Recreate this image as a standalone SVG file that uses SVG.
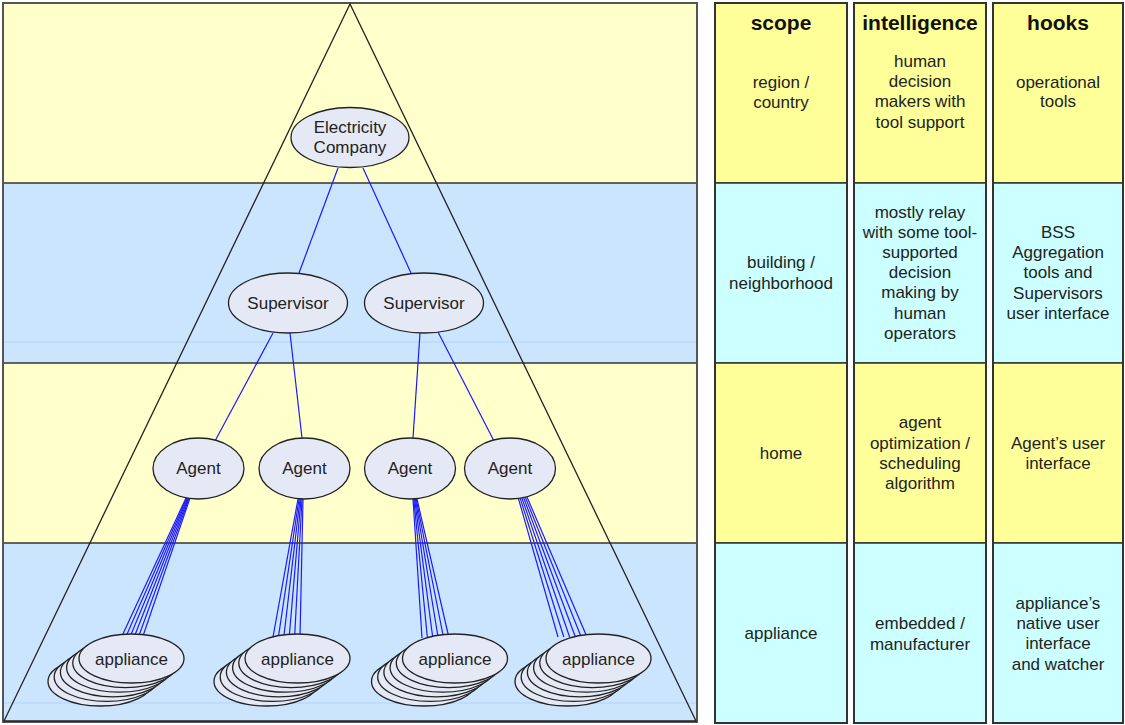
<svg xmlns="http://www.w3.org/2000/svg" width="1125" height="725" viewBox="0 0 1125 725">
<style>
.bandY{fill:#FFFFCC}
.bandB{fill:#CCE5FF}
.sep{stroke:#333;stroke-width:1.5}
.faint{stroke:#BBD9F8;stroke-width:1.5}
.tri{fill:none;stroke:#222;stroke-width:1.3}
.node{fill:#E4E9F5;stroke:#222;stroke-width:1.3}
.lbl{font-family:"Liberation Sans",Arial,sans-serif;font-size:17px;fill:#222;text-anchor:middle}
.hdr{font-family:"Liberation Sans",Arial,sans-serif;font-size:21px;font-weight:bold;fill:#111;text-anchor:middle}
.conn line{stroke:#1A1AFF;stroke-width:1.2}
.cY{fill:#FFFF99;stroke:#333;stroke-width:1.5}
.cC{fill:#CCFFFF;stroke:#333;stroke-width:1.5}
.col{fill:none;stroke:#333;stroke-width:2}
</style>
<rect x="0" y="0" width="1125" height="725" fill="#ffffff"/>
<g id="layers">
<rect class="bandY" x="3" y="3" width="694" height="180"/>
<rect class="bandB" x="3" y="183" width="694" height="180"/>
<rect class="bandY" x="3" y="363" width="694" height="180"/>
<rect class="bandB" x="3" y="543" width="694" height="179"/>
<line class="faint" x1="4" y1="342" x2="696" y2="342"/>
<line class="faint" x1="4" y1="703" x2="696" y2="703"/>
<line class="sep" x1="3" y1="183" x2="697" y2="183"/>
<line class="sep" x1="3" y1="363" x2="697" y2="363"/>
<line class="sep" x1="3" y1="543" x2="697" y2="543"/>
<rect x="3" y="3" width="694" height="719" fill="none" stroke="#555" stroke-width="2"/>
<polygon class="tri" points="350,4 4,721 696,721"/>
</g>
<g id="connectors" class="conn">
<line x1="338" y1="168" x2="299" y2="273"/>
<line x1="363" y1="168" x2="411" y2="273"/>
<line x1="273" y1="333" x2="215" y2="441"/>
<line x1="290" y1="333" x2="302" y2="438"/>
<line x1="420" y1="333" x2="413" y2="438"/>
<line x1="438" y1="332" x2="494" y2="441"/>
<line x1="186" y1="498" x2="122" y2="636"/>
<line x1="186.8" y1="498" x2="126.2" y2="636"/>
<line x1="187.6" y1="498" x2="130.4" y2="636"/>
<line x1="188.4" y1="498" x2="134.6" y2="636"/>
<line x1="189.2" y1="498" x2="138.8" y2="636"/>
<line x1="190" y1="498" x2="143" y2="636"/>
<line x1="298" y1="499" x2="273" y2="637"/>
<line x1="299" y1="499" x2="278.4" y2="637"/>
<line x1="300" y1="499" x2="283.8" y2="637"/>
<line x1="301" y1="499" x2="289.2" y2="637"/>
<line x1="302" y1="499" x2="294.6" y2="637"/>
<line x1="303" y1="499" x2="300" y2="637"/>
<line x1="413" y1="499" x2="422" y2="638"/>
<line x1="413.8" y1="499" x2="427.4" y2="638"/>
<line x1="414.6" y1="499" x2="432.8" y2="638"/>
<line x1="415.4" y1="499" x2="438.2" y2="638"/>
<line x1="416.2" y1="499" x2="443.6" y2="638"/>
<line x1="417" y1="499" x2="449" y2="638"/>
<line x1="518" y1="497" x2="558" y2="637"/>
<line x1="519.8" y1="497" x2="563.8" y2="637"/>
<line x1="521.6" y1="497" x2="569.6" y2="637"/>
<line x1="523.4" y1="497" x2="575.4" y2="637"/>
<line x1="525.2" y1="497" x2="581.2" y2="637"/>
<line x1="527" y1="497" x2="587" y2="637"/>
</g>
<g id="electricity-company">
<ellipse class="node" cx="350" cy="137.5" rx="59" ry="30"/>
<text class="lbl" x="350" y="133">Electricity</text>
<text class="lbl" x="350" y="153">Company</text>
</g>
<g id="supervisor-1">
<ellipse class="node" cx="288" cy="303" rx="59.5" ry="30"/>
<text class="lbl" x="288" y="309">Supervisor</text>
</g>
<g id="supervisor-2">
<ellipse class="node" cx="424" cy="303" rx="59.5" ry="30"/>
<text class="lbl" x="424" y="309">Supervisor</text>
</g>
<g id="agent-1">
<ellipse class="node" cx="198.5" cy="468.5" rx="45.5" ry="30.5"/>
<text class="lbl" x="198.5" y="474">Agent</text>
</g>
<g id="agent-2">
<ellipse class="node" cx="304.5" cy="468.5" rx="45.5" ry="30.5"/>
<text class="lbl" x="304.5" y="474">Agent</text>
</g>
<g id="agent-3">
<ellipse class="node" cx="410" cy="468.5" rx="45.5" ry="30.5"/>
<text class="lbl" x="410" y="474">Agent</text>
</g>
<g id="agent-4">
<ellipse class="node" cx="510" cy="468.5" rx="45.5" ry="30.5"/>
<text class="lbl" x="510" y="474">Agent</text>
</g>
<defs>
<g id="stack">
<ellipse class="node" cx="-31" cy="23" rx="52.5" ry="24.5"/>
<ellipse class="node" cx="-24.8" cy="18.4" rx="52.5" ry="24.5"/>
<ellipse class="node" cx="-18.6" cy="13.8" rx="52.5" ry="24.5"/>
<ellipse class="node" cx="-12.4" cy="9.2" rx="52.5" ry="24.5"/>
<ellipse class="node" cx="-6.2" cy="4.6" rx="52.5" ry="24.5"/>
<ellipse class="node" cx="0" cy="0" rx="52.5" ry="24.5"/>
</g>
</defs>
<g id="appliance-1">
<use href="#stack" x="131.5" y="658.5"/>
<text class="lbl" x="131.5" y="665">appliance</text>
</g>
<g id="appliance-2">
<use href="#stack" x="297.5" y="658.5"/>
<text class="lbl" x="297.5" y="665">appliance</text>
</g>
<g id="appliance-3">
<use href="#stack" x="455" y="658.5"/>
<text class="lbl" x="455" y="665">appliance</text>
</g>
<g id="appliance-4">
<use href="#stack" x="598.5" y="658.5"/>
<text class="lbl" x="598.5" y="665">appliance</text>
</g>
<g id="table">
<g id="col-scope">
<rect class="cY" x="715" y="3" width="132" height="180"/>
<rect class="cC" x="715" y="183" width="132" height="180"/>
<rect class="cY" x="715" y="363" width="132" height="180"/>
<rect class="cC" x="715" y="543" width="132" height="180"/>
<rect class="col" x="715" y="3" width="132" height="720"/>
<text class="hdr" x="781" y="30">scope</text>
<text class="lbl" x="781" y="88">region /</text>
<text class="lbl" x="781" y="108">country</text>
<text class="lbl" x="781" y="268">building /</text>
<text class="lbl" x="781" y="289">neighborhood</text>
<text class="lbl" x="781" y="459">home</text>
<text class="lbl" x="781" y="639">appliance</text>
</g>
<g id="col-intelligence">
<rect class="cY" x="854" y="3" width="132" height="180"/>
<rect class="cC" x="854" y="183" width="132" height="180"/>
<rect class="cY" x="854" y="363" width="132" height="180"/>
<rect class="cC" x="854" y="543" width="132" height="180"/>
<rect class="col" x="854" y="3" width="132" height="720"/>
<text class="hdr" x="920" y="30">intelligence</text>
<text class="lbl" x="920" y="67">human</text>
<text class="lbl" x="920" y="87">decision</text>
<text class="lbl" x="920" y="107">makers with</text>
<text class="lbl" x="920" y="128">tool support</text>
<text class="lbl" x="920" y="218">mostly relay</text>
<text class="lbl" x="920" y="238">with some tool-</text>
<text class="lbl" x="920" y="258">supported</text>
<text class="lbl" x="920" y="278">decision</text>
<text class="lbl" x="920" y="298">making by</text>
<text class="lbl" x="920" y="319">human</text>
<text class="lbl" x="920" y="339">operators</text>
<text class="lbl" x="920" y="428">agent</text>
<text class="lbl" x="920" y="449">optimization /</text>
<text class="lbl" x="920" y="469">scheduling</text>
<text class="lbl" x="920" y="489">algorithm</text>
<text class="lbl" x="920" y="629">embedded /</text>
<text class="lbl" x="920" y="650">manufacturer</text>
</g>
<g id="col-hooks">
<rect class="cY" x="993" y="3" width="130" height="180"/>
<rect class="cC" x="993" y="183" width="130" height="180"/>
<rect class="cY" x="993" y="363" width="130" height="180"/>
<rect class="cC" x="993" y="543" width="130" height="180"/>
<rect class="col" x="993" y="3" width="130" height="720"/>
<text class="hdr" x="1058" y="30">hooks</text>
<text class="lbl" x="1058" y="88">operational</text>
<text class="lbl" x="1058" y="107">tools</text>
<text class="lbl" x="1058" y="238">BSS</text>
<text class="lbl" x="1058" y="258">Aggregation</text>
<text class="lbl" x="1058" y="278">tools and</text>
<text class="lbl" x="1058" y="299">Supervisors</text>
<text class="lbl" x="1058" y="319">user interface</text>
<text class="lbl" x="1058" y="449">Agent’s user</text>
<text class="lbl" x="1058" y="469">interface</text>
<text class="lbl" x="1058" y="609">appliance’s</text>
<text class="lbl" x="1058" y="629">native user</text>
<text class="lbl" x="1058" y="649">interface</text>
<text class="lbl" x="1058" y="670">and watcher</text>
</g>
</g>
</svg>
